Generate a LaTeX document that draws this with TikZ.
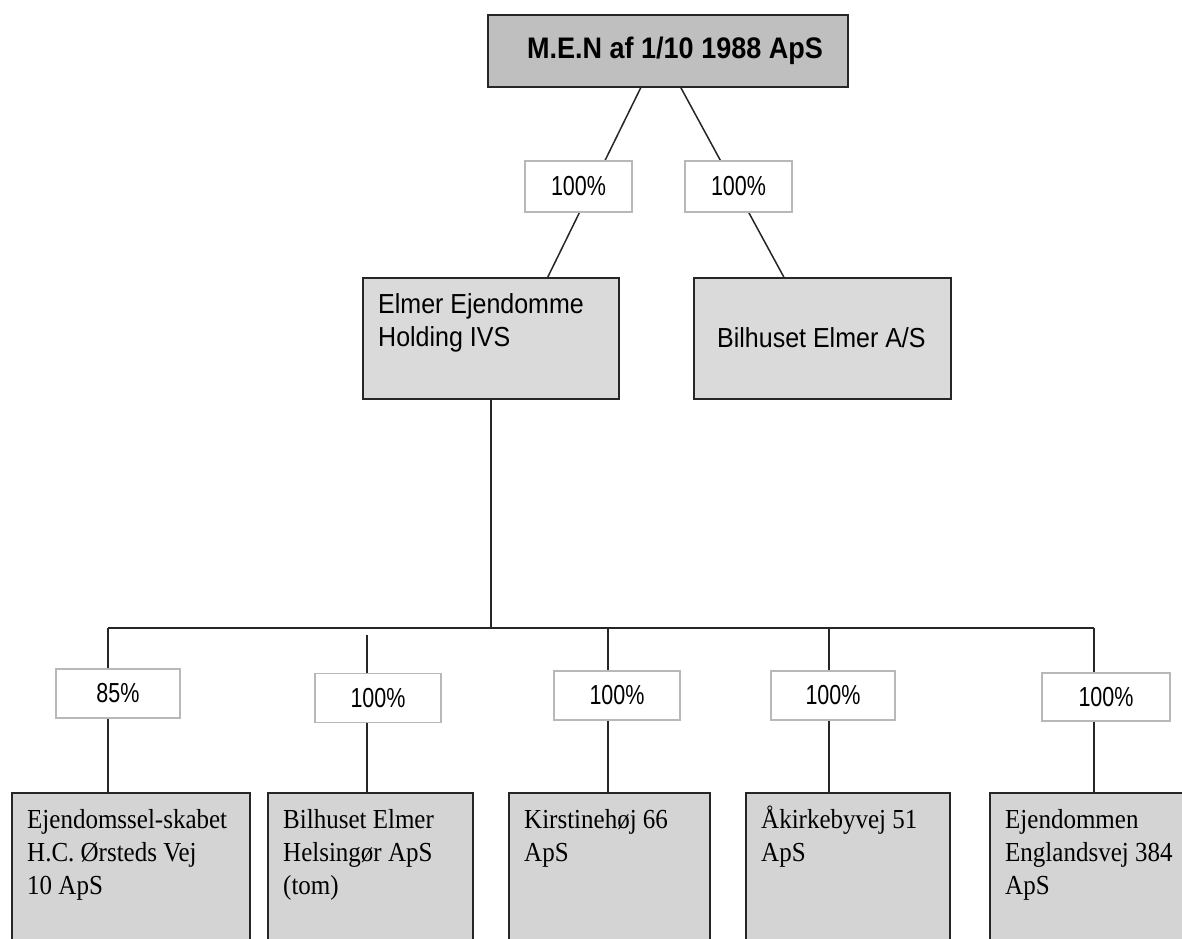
\documentclass[tikz,border=0pt]{standalone}
\usepackage{fontspec}
\setmainfont{Liberation Serif}
\setsansfont{Liberation Sans}
\usepackage{graphicx}
\usepackage{xcolor}

\definecolor{topgray}{HTML}{BFBFBF}
\definecolor{holdgray}{HTML}{DADADA}
\definecolor{subgray}{HTML}{D4D4D4}
\definecolor{edgegray}{HTML}{B8B8B8}

% tekst lidt strakt i hoejden, som i originalen
\newcommand{\tall}[2][1.1]{\scalebox{1}[#1]{\begin{tabular}[t]{@{}l@{}}#2\end{tabular}}}

\begin{document}
\begin{tikzpicture}[x=1pt, y=-1pt,
    company/.style={draw=black!85, line width=1.6pt, inner sep=0pt, anchor=north west},
    share/.style={draw=edgegray, line width=1.1pt, fill=white, inner sep=0pt,
        minimum width=126pt, minimum height=49pt, font=\sffamily\fontsize{21.5}{26}\selectfont},
    conn/.style={line width=1.5pt, black!85},
    boxtext/.style={anchor=base west, inner sep=0pt}]
    \useasboundingbox (0,0) rectangle (1182,938);
    \clip (0,0) rectangle (1182,938);

    % top og datterselskaber
    \node[company, fill=topgray, minimum width=360pt, minimum height=72pt] (men) at (487,14) {};
    \node[boxtext, font=\sffamily\bfseries\fontsize{27}{32}\selectfont] at ([shift={(40,44)}]men.north west) {\tall{M.E.N af 1/10 1988 ApS}};

    \node[company, fill=holdgray, minimum width=256pt, minimum height=121pt] (elmer) at (362,277) {};
    \node[boxtext, font=\sffamily\fontsize{25}{30}\selectfont] at ([shift={(16,36)}]elmer.north west) {\tall{Elmer Ejendomme\\Holding IVS}};

    \node[company, fill=holdgray, minimum width=257pt, minimum height=121pt] (bil) at (693,277) {};
    \node[boxtext, font=\sffamily\fontsize{25}{30}\selectfont] at ([shift={(24,70)}]bil.north west) {\tall{Bilhuset Elmer A/S}};

    \draw[conn] ([xshift=-27pt]men.south) -- ([xshift=57pt]elmer.north);
    \draw[conn] ([xshift=13pt]men.south) -- ([xshift=-38.5pt]bil.north);
    \node[share, minimum width=107pt, minimum height=51pt] (s1) at (578.5,186.5) {\scalebox{1}[1.28]{100\%}};
    \node[share, minimum width=107pt, minimum height=51pt] (s2) at (738.5,186.5) {\scalebox{1}[1.28]{100\%}};

    % nederste raekke
    \node[company, fill=subgray, minimum width=238pt, minimum height=170pt] (ejd) at (11,792) {};
    \node[company, fill=subgray, minimum width=205pt, minimum height=170pt] (hel) at (267,792) {};
    \node[company, fill=subgray, minimum width=201pt, minimum height=170pt] (kir) at (508,792) {};
    \node[company, fill=subgray, minimum width=204pt, minimum height=170pt] (aak) at (745,792) {};
    \node[company, fill=subgray, minimum width=230pt, minimum height=170pt] (eng) at (989,792) {};

    \begin{scope}[every node/.style={boxtext, font=\fontsize{25}{30}\selectfont}]
    \node at ([shift={(16,36)}]ejd.north west) {\tall{Ejendomssel-skabet\\H.C. Ørsteds Vej\\10 ApS}};
    \node at ([shift={(16,36)}]hel.north west) {\tall{Bilhuset Elmer\\Helsingør ApS\\(tom)}};
    \node at ([shift={(16,36)}]kir.north west) {\tall{Kirstinehøj 66\\ApS}};
    \node at ([shift={(16,36)}]aak.north west) {\tall{Åkirkebyvej 51\\ApS}};
    \node at ([shift={(16,36)}]eng.north west) {\tall{Ejendommen\\Englandsvej 384\\ApS}};
    \end{scope}

    \coordinate (b1) at (108,628);
    \coordinate (b2) at (367,635);
    \coordinate (b3) at (608,628);
    \coordinate (b4) at (829,628);
    \coordinate (b5) at (1094,628);
    \draw[conn] (elmer.south) -- (elmer.south |- b1);
    \draw[conn] (b1) -- (b5);
    \draw[conn] (b1) -- (b1 |- ejd.north);
    \draw[conn] (b2) -- (b2 |- hel.north);
    \draw[conn] (b3) -- (b3 |- kir.north);
    \draw[conn] (b4) -- (b4 |- aak.north);
    \draw[conn] (b5) -- (b5 |- eng.north);

    \node[share, minimum width=124pt] (p1) at (118,693.5) {\scalebox{1}[1.28]{85\%}};
    \node[share] (p2) at (378,698) {\scalebox{1}[1.28]{100\%}};
    \node[share] (p3) at (617,695.5) {\scalebox{1}[1.28]{100\%}};
    \node[share, minimum width=124pt] (p4) at (833,695.5) {\scalebox{1}[1.28]{100\%}};
    \node[share, minimum width=128pt, minimum height=48pt] (p5) at (1106,697) {\scalebox{1}[1.28]{100\%}};
\end{tikzpicture}
\end{document}
